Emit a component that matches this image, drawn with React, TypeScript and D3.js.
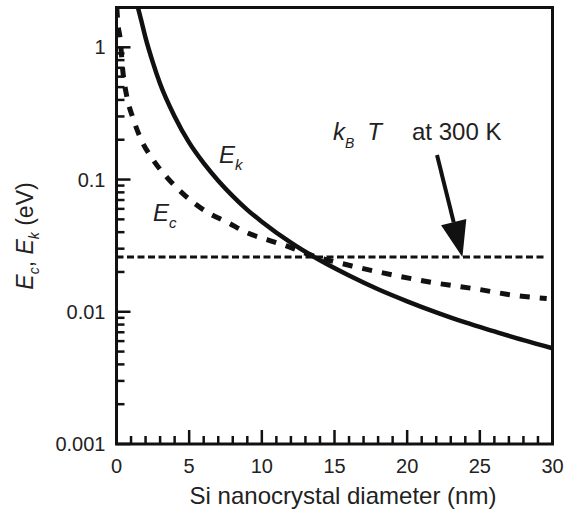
import * as d3 from "d3";

// diameters (nm) and energies (eV)
const ekD = [1.45, 1.7, 2, 2.5, 3, 4, 5, 6, 7, 8, 9, 10, 12, 14, 16, 18, 20, 22, 24, 26, 28, 30];
const ekV = [2.05, 1.6, 1.18, 0.77, 0.53, 0.3, 0.19, 0.133, 0.098, 0.075, 0.059, 0.048, 0.0333, 0.0245, 0.0188, 0.0148, 0.012, 0.0099, 0.0083, 0.0071, 0.0061, 0.0053];

const ecD = [0.02, 0.1, 0.24, 0.45, 0.72, 1.14, 1.7, 2.44, 3.5, 4.7, 6.2, 7.7, 9, 10.4, 11.5, 13.3, 16.2, 19, 21.8, 24.7, 27.6, 29.6];
const ecV = [2.0, 1.5, 1.19, 0.64, 0.42, 0.29, 0.2, 0.145, 0.103, 0.076, 0.057, 0.047, 0.0395, 0.035, 0.032, 0.027, 0.0222, 0.019, 0.0166, 0.0149, 0.0132, 0.0126];

const kT = 0.0259;
const kTRange = [0, 29.6];

const xTicks = [0, 5, 10, 15, 20, 25, 30];
const yTicks = [0.001, 0.01, 0.1, 1];
const yTickLabels = ["0.001", "0.01", "0.1", "1"];

const W = 575;
const H = 513;
const m = { left: 116.5, right: 22.5, top: 7.5, bottom: 69 };

const font = "'Liberation Sans', Arial, sans-serif";

export default function App() {
  const x = d3.scaleLinear().domain([0, 30]).range([m.left, W - m.right]);
  const y = d3.scaleLog().domain([0.001, 2]).range([H - m.bottom, m.top]);

  const line = d3
    .line<[number, number]>()
    .x((d) => x(d[0]))
    .y((d) => y(d[1]))
    .curve(d3.curveMonotoneX);

  const ek = line(ekD.map((d, i) => [d, ekV[i]]));
  const ec = line(ecD.map((d, i) => [d, ecV[i]]));

  const minorX = d3.range(0, 31).filter((v) => v % 5 !== 0);
  const minorY: number[] = [];
  [0.001, 0.01, 0.1, 1].forEach((dec) => {
    for (let k = 2; k <= 9; k++) if (dec * k < 2) minorY.push(dec * k);
  });

  const x0 = x(0);
  const y0 = y(0.001);

  // arrow pointing to kT line
  const tip: [number, number] = [x(23.8), y(kT)];
  const tail: [number, number] = [437, 155];
  const ang = Math.atan2(tip[1] - tail[1], tip[0] - tail[0]);
  const hl = 36;
  const hw = 13;
  const bx = tip[0] - hl * Math.cos(ang);
  const by = tip[1] - hl * Math.sin(ang);
  const head = [
    [tip[0], tip[1]],
    [bx + hw * Math.sin(ang), by - hw * Math.cos(ang)],
    [bx - hw * Math.sin(ang), by + hw * Math.cos(ang)],
  ]
    .map((p) => p.join(","))
    .join(" ");

  return (
    <svg width={W} height={H} style={{ position: "absolute", left: 0, top: 0, background: "#fff" }} fontFamily={font}>
      <defs>
        <clipPath id="plot">
          <rect x={m.left} y={m.top} width={W - m.left - m.right} height={H - m.top - m.bottom} />
        </clipPath>
      </defs>

      <g clipPath="url(#plot)" fill="none" stroke="#111">
        <line
          x1={x(kTRange[0])}
          x2={x(kTRange[1])}
          y1={y(kT)}
          y2={y(kT)}
          strokeWidth={3}
          strokeDasharray="7 3.5"
        />
        <path d={ec ?? ""} strokeWidth={5} strokeDasharray="10 10" />
        <path d={ek ?? ""} strokeWidth={4.5} />
      </g>

      {/* frame */}
      <rect
        x={m.left}
        y={m.top}
        width={W - m.left - m.right}
        height={H - m.top - m.bottom}
        fill="none"
        stroke="#111"
        strokeWidth={3}
      />

      {/* ticks, pointing inward */}
      <g stroke="#111" strokeWidth={2.5}>
        {xTicks.map((t) => (
          <line key={"xm" + t} x1={x(t)} x2={x(t)} y1={y0} y2={y0 - 14} />
        ))}
        {minorX.map((t) => (
          <line key={"xn" + t} x1={x(t)} x2={x(t)} y1={y0} y2={y0 - 8} />
        ))}
        {yTicks.map((t) => (
          <line key={"ym" + t} x1={x0} x2={x0 + 14} y1={y(t)} y2={y(t)} />
        ))}
        {minorY.map((t, i) => (
          <line key={"yn" + i} x1={x0} x2={x0 + 8} y1={y(t)} y2={y(t)} />
        ))}
      </g>

      <g fontSize={20} fill="#222">
        {xTicks.map((t) => (
          <text key={"xl" + t} x={x(t)} y={y0 + 29} textAnchor="middle">
            {t}
          </text>
        ))}
        {yTicks.map((t, i) => (
          <text key={"yl" + t} x={x0 - 11} y={y(t) + 7} textAnchor="end">
            {yTickLabels[i]}
          </text>
        ))}
      </g>

      <text x={343} y={504} fontSize={24} textAnchor="middle" fill="#222">
        Si nanocrystal diameter (nm)
      </text>

      <text transform="translate(33,236) rotate(-90)" fontSize={23} textAnchor="middle" fill="#222">
        <tspan fontStyle="italic">E</tspan>
        <tspan fontStyle="italic" fontSize={14} dy={6}>c</tspan>
        <tspan dy={-6}>, </tspan>
        <tspan fontStyle="italic">E</tspan>
        <tspan fontStyle="italic" fontSize={14} dy={6}>k</tspan>
        <tspan dy={-6}> (eV)</tspan>
      </text>

      {/* curve labels */}
      <text x={219} y={163} fontSize={24} fill="#222" fontStyle="italic">
        E<tspan fontSize={15} dy={7}>k</tspan>
      </text>
      <text x={153} y={221} fontSize={24} fill="#222" fontStyle="italic">
        E<tspan fontSize={15} dy={7}>c</tspan>
      </text>

      <text x={333} y={140} fontSize={24} fill="#222">
        <tspan fontStyle="italic">k</tspan>
        <tspan fontStyle="italic" fontSize={14} dy={8}>B</tspan>
        <tspan fontStyle="italic" dy={-8} dx={13}>T</tspan>
        <tspan dx={30}>at 300 K</tspan>
      </text>

      <line x1={tail[0]} y1={tail[1]} x2={bx} y2={by} stroke="#111" strokeWidth={4} />
      <polygon points={head} fill="#111" />
    </svg>
  );
}
